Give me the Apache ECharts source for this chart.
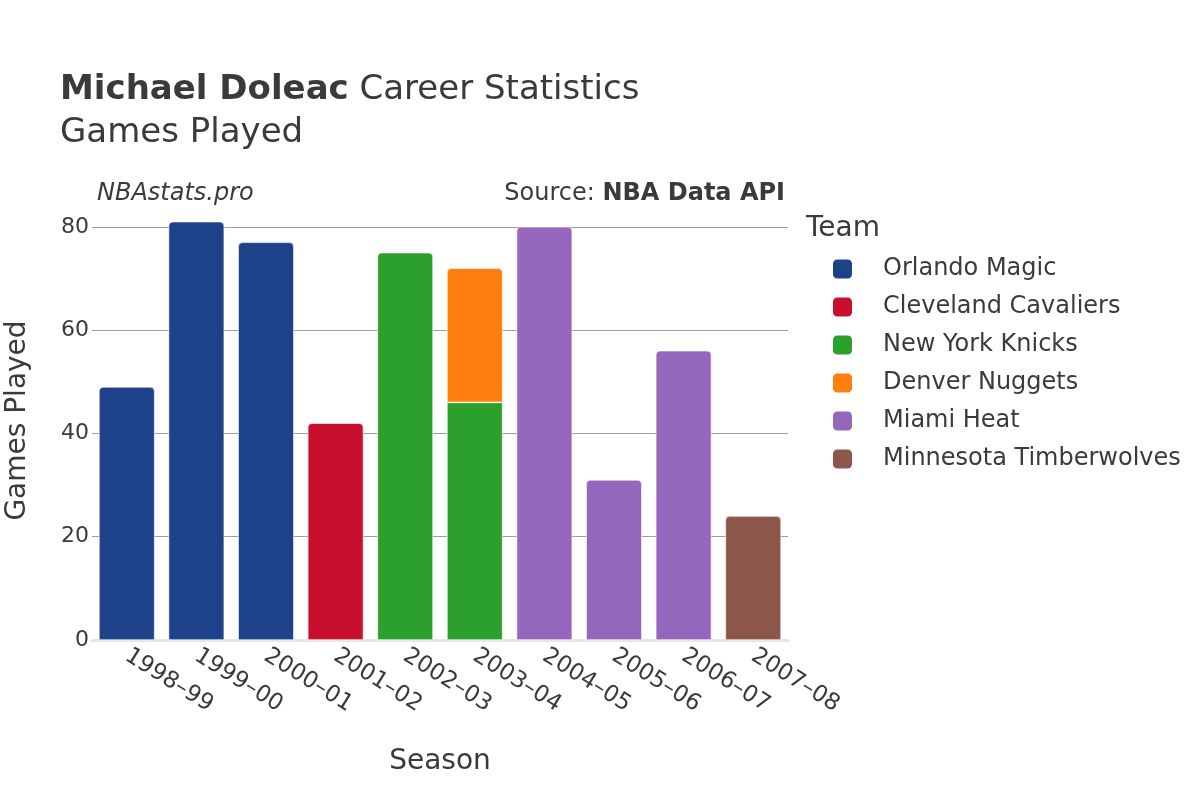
<!DOCTYPE html>
<html>
<head>
<meta charset="utf-8">
<script src="https://cdn.jsdelivr.net/npm/echarts@6/dist/echarts.min.js"></script>
<style>
html,body{margin:0;padding:0;background:#fff;}
#chart{width:1200px;height:800px;}
</style>
</head>
<body>
<div id="chart"></div>
<script>
const seasons = ['1998–99','1999–00','2000–01','2001–02','2002–03','2003–04','2004–05','2005–06','2006–07','2007–08'];
const teams = ['Orlando Magic','Cleveland Cavaliers','New York Knicks','Denver Nuggets','Miami Heat','Minnesota Timberwolves'];
const teamColors = ['#1d428a','#c8102e','#2ca02c','#ff7f0e','#9467bd','#8c564b'];
const orlandoMagic = [49,81,77,null,null,null,null,null,null,null];
const clevelandCavaliers = [null,null,null,42,null,null,null,null,null,null];
const newYorkKnicks = [null,null,null,null,75,46,null,null,null,null];
const denverNuggets = [null,null,null,null,null,26,null,null,null,null];
const miamiHeat = [null,null,null,null,null,null,80,31,56,null];
const minnesotaTimberwolves = [null,null,null,null,null,null,null,null,null,24];
const yTicks = [0,20,40,60,80];

const teamData = [orlandoMagic, clevelandCavaliers, newYorkKnicks, denverNuggets, miamiHeat, minnesotaTimberwolves];

// find top-most series per category for rounded corners
const topIdx = seasons.map((s, i) => {
  let t = -1;
  teamData.forEach((arr, k) => { if (arr[i] != null) t = k; });
  return t;
});

const FONT = 'DejaVu Sans';
const TXT = '#3a3a3a';

const series = teams.map((name, k) => ({
  name: name,
  type: 'bar',
  stack: 'games',
  barCategoryGap: '20%',
  itemStyle: { color: teamColors[k], borderColor: '#ffffff', borderWidth: 0.6 },
  emphasis: { disabled: true },
  data: teamData[k].map((v, i) => v == null ? null : {
    value: v,
    itemStyle: { borderRadius: topIdx[i] === k ? [4,4,0,0] : 0 }
  })
}));

const chart = echarts.init(document.getElementById('chart'), null, { renderer: 'canvas' });
chart.setOption({
  backgroundColor: '#ffffff',
  animation: false,
  textStyle: { fontFamily: FONT, color: TXT },
  title: [
    {
      text: '{b|Michael Doleac} Career Statistics',
      left: 60, top: 73, padding: 0,
      textStyle: {
        fontFamily: FONT, fontSize: 34, color: TXT, fontWeight: 'normal',
        rich: { b: { fontFamily: FONT, fontSize: 34, fontWeight: 'bold', color: TXT } }
      }
    },
    {
      text: 'Games Played',
      left: 60, top: 116, padding: 0,
      textStyle: { fontFamily: FONT, fontSize: 34, color: TXT, fontWeight: 'normal' }
    },
    {
      text: 'NBAstats.pro',
      left: 97, top: 182, padding: 0,
      textStyle: { fontFamily: FONT, fontSize: 24, color: TXT, fontWeight: 'normal', fontStyle: 'italic' }
    },
    {
      text: 'Source: {b|NBA Data API}',
      right: 415, top: 182, padding: 0,
      textStyle: {
        fontFamily: FONT, fontSize: 24, color: TXT, fontWeight: 'normal',
        rich: { b: { fontFamily: FONT, fontSize: 24, fontWeight: 'bold', color: TXT } }
      }
    },
    {
      text: 'Team',
      left: 806, top: 215, padding: 0,
      textStyle: { fontFamily: FONT, fontSize: 28, color: TXT, fontWeight: 'normal' }
    }
  ],
  legend: {
    orient: 'vertical',
    left: 831, top: 257, padding: 0,
    icon: 'roundRect',
    itemWidth: 21, itemHeight: 21, itemGap: 14,
    data: teams,
    textStyle: { fontFamily: FONT, fontSize: 24, color: TXT, padding: [0,0,0,25] },
    selectedMode: false
  },
  grid: { left: 92, right: 412, top: 201, bottom: 160, containLabel: false, outerBoundsMode: 'none' },
  xAxis: {
    type: 'category',
    data: seasons,
    name: 'Season',
    nameLocation: 'middle',
    nameGap: 108,
    nameTextStyle: { fontFamily: FONT, fontSize: 28, color: TXT },
    axisLine: { show: true, lineStyle: { color: '#e6e6e6', width: 3 } },
    axisTick: { show: false },
    axisLabel: { rotate: -32, fontFamily: FONT, fontSize: 23, color: TXT, margin: 14, interval: 0 }
  },
  yAxis: {
    type: 'value',
    min: 0, max: 85, interval: 20,
    name: 'Games Played',
    nameLocation: 'middle',
    nameGap: 60,
    nameTextStyle: { fontFamily: FONT, fontSize: 28, color: TXT },
    axisLine: { show: false },
    axisTick: { show: false },
    axisLabel: {
      fontFamily: FONT, fontSize: 22, color: TXT, margin: 3, showMaxLabel: false,
      formatter: v => yTicks.indexOf(v) >= 0 ? String(v) : ''
    },
    splitLine: {
      show: true, showMaxLine: false,
      lineStyle: { color: ['#9e9e9e','#9e9e9e','#9e9e9e','#9e9e9e','#9e9e9e','rgba(0,0,0,0)'], width: 1 }
    }
  },
  series: series
});
</script>
</body>
</html>
